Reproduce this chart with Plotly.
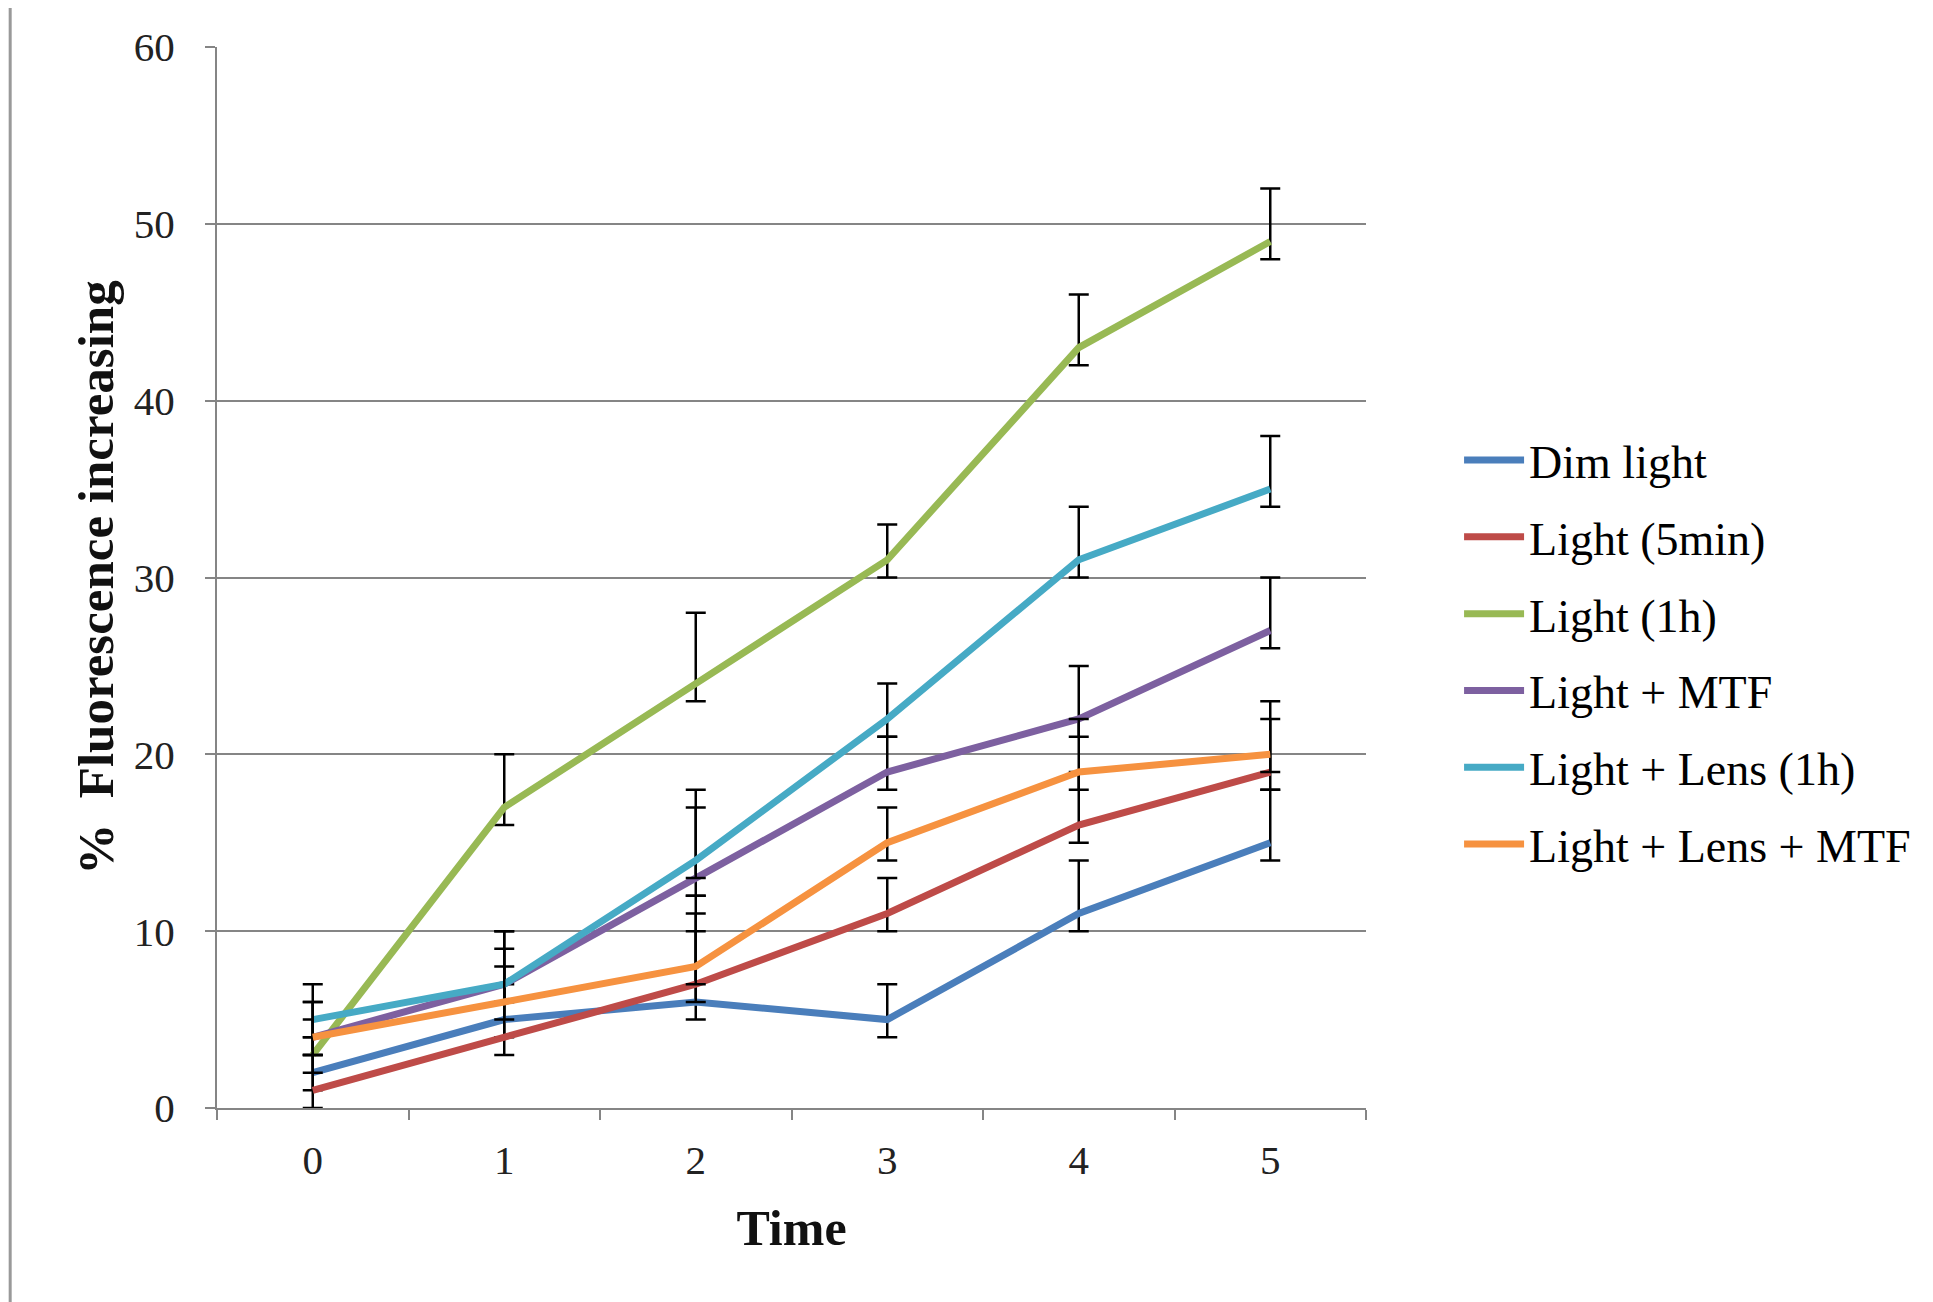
import plotly.graph_objects as go

time_points = [0, 1, 2, 3, 4, 5]
x_tick_labels = ["0", "1", "2", "3", "4", "5"]
y_tick_values = [0, 10, 20, 30, 40, 50, 60]

series_names = ["Dim light", "Light (5min)", "Light (1h)", "Light + MTF",
                "Light + Lens (1h)", "Light + Lens + MTF"]

dim_light = [2, 5, 6, 5, 11, 15]
light_5min = [1, 4, 7, 11, 16, 19]
light_1h = [3, 17, 24, 31, 43, 49]
light_mtf = [4, 7, 13, 19, 22, 27]
light_lens_1h = [5, 7, 14, 22, 31, 35]
light_lens_mtf = [4, 6, 8, 15, 19, 20]

err_plus = [2, 3, 4, 2, 3, 3]
err_minus = [1, 1, 1, 1, 1, 1]

colors = ["#4A7EBB", "#BE4B48", "#98B954", "#7D60A0", "#46AAC5", "#F69240"]

all_series = [dim_light, light_5min, light_1h, light_mtf, light_lens_1h, light_lens_mtf]

FONT = "Liberation Serif"
GRID = "#858585"

fig = go.Figure()
for i, (name, vals, col) in enumerate(zip(series_names, all_series, colors)):
    fig.add_trace(go.Scatter(
        x=time_points, y=vals, name=name, mode="lines", legendgroup=f"g{i}",
        line=dict(color=col, width=7),
        error_y=dict(type="data", symmetric=False, array=err_plus,
                     arrayminus=err_minus, color="black", thickness=2.5, width=10),
    ))

fig.update_layout(
    width=1933, height=1302,
    margin=dict(l=209, r=575, t=39, b=202),
    paper_bgcolor="white", plot_bgcolor="white",
    font=dict(family=FONT, color="black"),
    showlegend=True,
    legend=dict(x=1.081, y=0.645, xanchor="left", yanchor="top",
                font=dict(family=FONT, size=46, color="black"),
                tracegroupgap=14, itemwidth=60,
                bgcolor="rgba(0,0,0,0)"),
    xaxis=dict(
        range=[-0.5, 5.5], tickmode="array", tickvals=time_points,
        ticktext=x_tick_labels, ticks="", showgrid=False, zeroline=False,
        showline=True, linecolor=GRID, linewidth=2,
        tickfont=dict(family=FONT, size=41, color="#222"),
        ticklabelstandoff=15,
        minor=dict(tick0=-0.5, dtick=1, ticks="outside", ticklen=10,
                   tickcolor=GRID, tickwidth=2, showgrid=False),
        title=dict(text="<b>Time</b>", font=dict(family=FONT, size=50, color="#111"),
                   standoff=28),
    ),
    yaxis=dict(
        range=[0, 60], tickmode="array", tickvals=y_tick_values,
        ticks="outside", ticklen=10, tickcolor=GRID, tickwidth=2,
        showgrid=True, gridcolor=GRID, gridwidth=2, zeroline=False,
        showline=True, linecolor=GRID, linewidth=2,
        tickfont=dict(family=FONT, size=41, color="#222"),
        ticklabelstandoff=22,
        title=dict(text="<b>%  Fluorescence increasing</b>",
                   font=dict(family=FONT, size=51, color="#111"), standoff=4),
    ),
)

fig.add_shape(type="line", xref="paper", yref="paper",
              x0=-0.18, x1=-0.18, y0=-0.2, y1=1.05,
              line=dict(color="#999999", width=3))

fig.write_html("out.html")
